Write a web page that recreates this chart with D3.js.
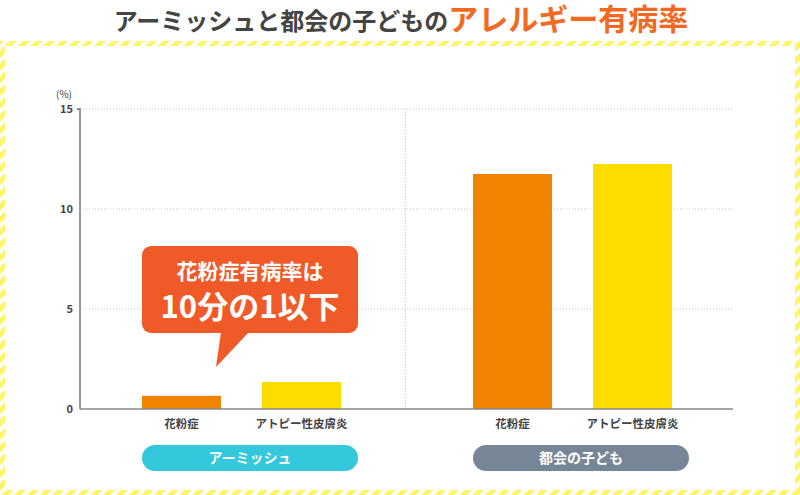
<!DOCTYPE html>
<html><head><meta charset="utf-8">
<script src="https://cdn.jsdelivr.net/npm/d3@7"></script>
<style>html,body{margin:0;padding:0;background:#fff;}svg{display:block;}</style>
</head><body>
<svg id="c" width="800" height="495"></svg>
<script>
(function(){
const groups = ["アーミッシュ", "都会の子ども"];
const categories = ["花粉症", "アトピー性皮膚炎"];
const amishValues = [0.66, 1.35];
const urbanValues = [11.75, 12.25];
const yTicks = [0, 5, 10, 15];
const groupColors = ["#33c8dc", "#778696"];
const barColors = ["#f08300", "#fddc00"];
const titleDark = "アーミッシュと都会の子どもの";
const titleOrange = "アレルギー有病率";
const calloutLines = ["花粉症有病率は", "10分の1以下"];

const seriesByGroup = [amishValues, urbanValues];
const font = "'Noto Sans CJK JP', 'Noto Sans', sans-serif";

const svg = d3.select("#c");
const defs = svg.append("defs");
const pat = defs.append("pattern").attr("id","stripes").attr("patternUnits","userSpaceOnUse")
  .attr("width",9).attr("height",9).attr("patternTransform","rotate(45)");
pat.append("rect").attr("width",9).attr("height",9).attr("fill","#ffffff");
pat.append("rect").attr("width",5).attr("height",9).attr("fill","#fff463");

svg.append("rect").attr("x",2.5).attr("y",43.5).attr("width",795).attr("height",449)
  .attr("fill","#fff").attr("stroke","url(#stripes)").attr("stroke-width",5);

const title = svg.append("text").attr("x",401).attr("y",30).attr("text-anchor","middle")
  .attr("font-family",font).attr("font-weight",700);
title.append("tspan").attr("fill","#444").attr("font-size",24).text(titleDark);
title.append("tspan").attr("fill","#f26a22").attr("font-size",30).text(titleOrange);

const pLeft = 80, pRight = 733, pTop = 109, pBottom = 409;
const y = d3.scaleLinear().domain([0,15]).range([pBottom, pTop]);
const x0 = d3.scaleBand().domain(groups).range([77, 739]);
const x1 = d3.scaleBand().domain(categories).range([65, 264]).paddingInner(0.342).paddingOuter(0);

const g = svg.append("g");
g.selectAll("line.grid").data(yTicks.filter(d=>d>0)).join("line")
  .attr("x1",pLeft).attr("x2",pRight).attr("y1",d=>y(d)).attr("y2",d=>y(d))
  .attr("stroke","#c8c8c8").attr("stroke-dasharray","1,2");
const divX = 405.5;
g.append("line").attr("x1",divX).attr("x2",divX).attr("y1",pTop).attr("y2",pBottom)
  .attr("stroke","#c8c8c8").attr("stroke-dasharray","1,2");

const yAxis = d3.axisLeft(y).tickValues(yTicks).tickSize(3).tickPadding(4);
const ya = svg.append("g").attr("transform",`translate(${pLeft},0)`).call(yAxis);
ya.select(".domain").attr("stroke","#777").attr("stroke-width",1.5).attr("d",`M-3,${pTop}H0V${pBottom}`);
ya.selectAll(".tick line").attr("stroke","#777");
ya.selectAll(".tick").filter(d=>d!==15).select("line").remove();
ya.selectAll(".tick text").attr("font-family",font).attr("font-weight",700).attr("font-size",11).attr("fill","#444");
svg.append("text").attr("x",64).attr("y",98).attr("text-anchor","middle").attr("font-family",font)
  .attr("font-size",10).attr("fill","#444").text("(%)");

groups.forEach((grp,gi)=>{
  const gg = svg.append("g").attr("transform",`translate(${x0(grp)},0)`);
  gg.selectAll("rect.bar").data(seriesByGroup[gi]).join("rect").attr("class","bar")
    .attr("x",(d,i)=>x1(categories[i])).attr("width",x1.bandwidth())
    .attr("y",d=>y(d)).attr("height",d=>y(0)-y(d))
    .attr("fill",(d,i)=>barColors[i]);
  gg.selectAll("text.cat").data(categories).join("text").attr("class","cat")
    .attr("x",d=>x1(d)+x1.bandwidth()/2).attr("y",428).attr("text-anchor","middle")
    .attr("font-family",font).attr("font-weight",700).attr("font-size",11.5).attr("fill","#444").text(d=>d);
  const px = x1(categories[0]);
  const pw = 216;
  gg.append("rect").attr("x",px).attr("y",445).attr("width",pw).attr("height",26).attr("rx",13)
    .attr("fill",groupColors[gi]);
  gg.append("text").attr("x",px+pw/2).attr("y",463).attr("text-anchor","middle")
    .attr("font-family",font).attr("font-weight",700).attr("font-size",14).attr("fill","#fff").text(grp);
});

svg.append("line").attr("x1",pLeft).attr("x2",pRight).attr("y1",pBottom).attr("y2",pBottom)
  .attr("stroke","#888").attr("stroke-width",1.5);

const cx = x0(groups[0]) + x1(categories[0]);
const cw = 216, cy = 246, ch = 87;
const co = svg.append("g");
co.append("rect").attr("x",cx).attr("y",cy).attr("width",cw).attr("height",ch).attr("rx",9).attr("fill","#f05a28");
co.append("path").attr("d",`M${cx+79},${cy+ch-1}L${cx+74},${cy+ch+34}L${cx+107},${cy+ch-1}Z`).attr("fill","#f05a28");
co.append("text").attr("x",cx+cw/2).attr("y",cy+33).attr("text-anchor","middle").attr("font-family",font)
  .attr("font-weight",700).attr("font-size",21).attr("fill","#fff").text(calloutLines[0]);
co.append("text").attr("x",cx+cw/2).attr("y",cy+72).attr("text-anchor","middle").attr("font-family",font)
  .attr("font-weight",700).attr("font-size",31).attr("fill","#fff").text(calloutLines[1]);
})();
</script>
</body></html>
